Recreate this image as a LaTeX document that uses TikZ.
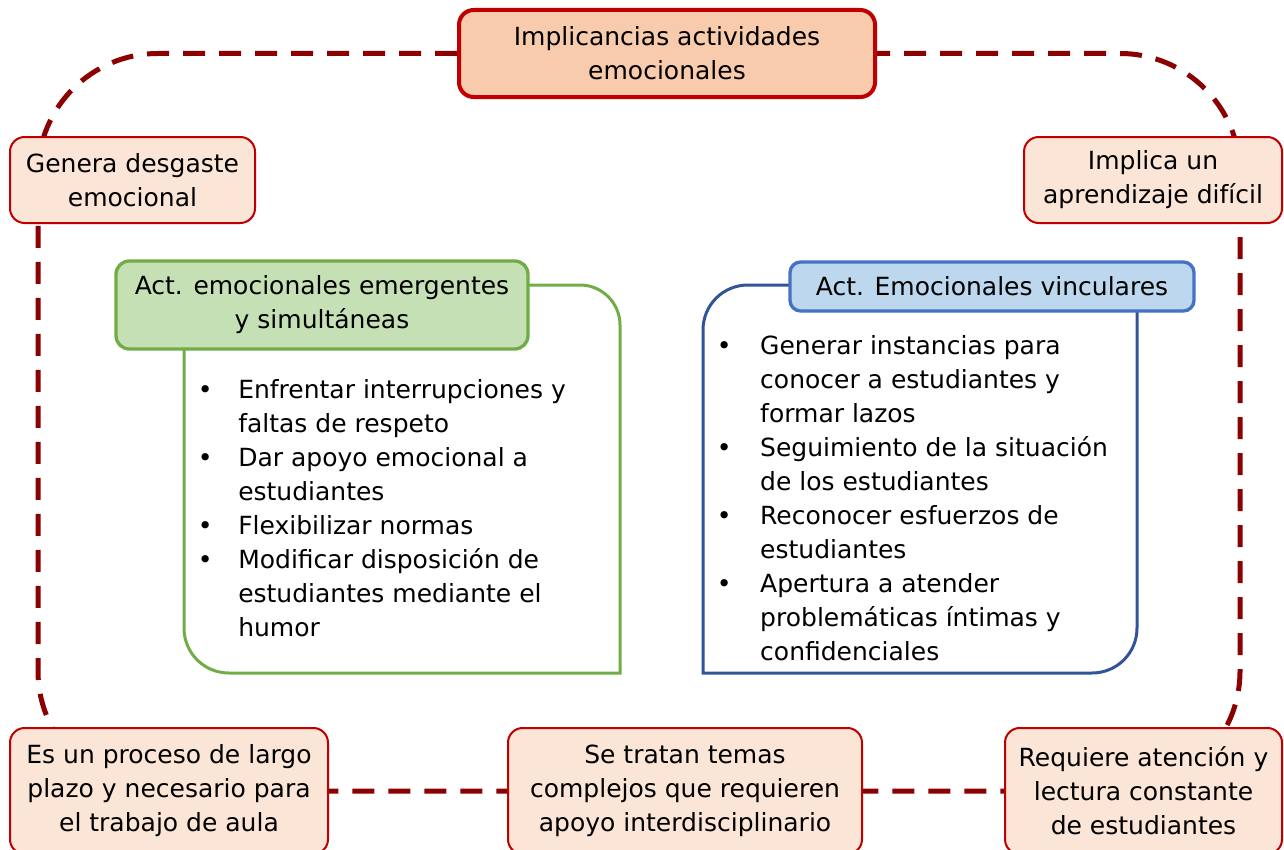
\documentclass[tikz,border=0pt]{standalone}
\usepackage{fontspec}
\setmainfont{DejaVu Sans}
\usetikzlibrary{backgrounds}
\definecolor{loopred}{HTML}{8B0000}
\definecolor{boxred}{HTML}{C00000}
\definecolor{topfill}{HTML}{F8CBAD}
\definecolor{smallfill}{HTML}{FBE5D6}
\definecolor{greenline}{HTML}{70AD47}
\definecolor{greenfill}{HTML}{C5E0B4}
\definecolor{blueline}{HTML}{4472C4}
\definecolor{bluefill}{HTML}{BDD7EE}
\definecolor{bluebody}{HTML}{2F5597}
\newcommand{\gbul}{\makebox[30.3pt][l]{•}}
\newcommand{\gind}{\hspace*{30.3pt}}
\newcommand{\bbul}{\makebox[32.5pt][l]{•}}
\newcommand{\bind}{\hspace*{32.5pt}}
\begin{document}
\begin{tikzpicture}[x=0.75pt,y=-0.75pt,
  every node/.style={font=\fontsize{18.75pt}{25.5pt}\selectfont, align=center, inner sep=0pt},
  topbox/.style={draw=boxred, fill=topfill, line width=3pt, rounded corners=11pt},
  smallbox/.style={draw=boxred, fill=smallfill, line width=1.5pt, rounded corners=11pt},
  greenhdr/.style={draw=greenline, fill=greenfill, line width=2.5pt, rounded corners=10pt},
  bluehdr/.style={draw=blueline, fill=bluefill, line width=2.5pt, rounded corners=8pt},
  listtext/.style={align=left, anchor=north west},
  loopline/.style={draw=loopred, line width=3.75pt, dash pattern=on 16.5pt off 10.5pt},
  greenbody/.style={draw=greenline, line width=2.25pt},
  bluebody/.style={draw=bluebody, line width=2.25pt}]
\useasboundingbox (0,0) rectangle (1284,849);

% main nodes
\node[topbox, minimum width=312pt, minimum height=65.25pt] (top) at (667,53.5) {Implicancias actividades\\emocionales};
\node[smallbox, minimum width=183.75pt, minimum height=64.5pt] (genera) at (132.5,180) {Genera desgaste\\emocional};
\node[smallbox, minimum width=193.5pt, minimum height=64.5pt] (implica) at (1153,180) {Implica un\\aprendizaje difícil};
\node[smallbox, minimum width=238.5pt, minimum height=94.5pt] (bl) at (169,791) {Es un proceso de largo\\plazo y necesario para\\el trabajo de aula};
\node[smallbox, minimum width=265.5pt, minimum height=94.5pt] (bm) at (685,791) {Se tratan temas\\complejos que requieren\\apoyo interdisciplinario};
\node[smallbox, minimum width=207.75pt, minimum height=94.5pt] (br) at (1143.5,791) {Requiere atención y\\lectura constante\\de estudiantes};

% loop coordinates
\coordinate (ltc) at (38,53.5);
\coordinate (lbc) at (38,791);
\coordinate (rbc) at (1240,791);
\coordinate (rtc) at (1240,53.5);

\begin{scope}[on background layer]
\draw[loopline, rounded corners=90pt] (top.west) -- (ltc) -- (lbc) -- (rbc) -- (rtc) -- (top.east);
\end{scope}

% green group
\draw[greenbody] (184,349) -- (184,628) .. controls (184,653) and (204,673) .. (229,673) -- (620,673) -- (620,325) .. controls (620,303) and (602,285) .. (580,285) -- (528,285);
\node[greenhdr, minimum width=309pt, minimum height=66pt] (ghdr) at (322,305) {Act. emocionales emergentes\\y simultáneas};
\node[listtext] (glist) at (197.6,378) {\gbul\rule{0pt}{15pt}Enfrentar interrupciones y\\
\gind faltas de respeto\\
\gbul Dar apoyo emocional a\\
\gind estudiantes\\
\gbul Flexibilizar normas\\
\gbul Modificar disposición de\\
\gind estudiantes mediante el\\
\gind humor};

% blue group
\draw[bluebody] (790,285) -- (748,285) .. controls (723,285) and (703,305) .. (703,330) -- (703,673) -- (1092,673) .. controls (1117,673) and (1137,653) .. (1137,628) -- (1137,311);
\node[bluehdr, minimum width=303pt, minimum height=36.75pt] (bhdr) at (992,286.5) {Act. Emocionales vinculares};
\node[listtext] (blist) at (716.6,334) {\bbul\rule{0pt}{15pt}Generar instancias para\\
\bind conocer a estudiantes y\\
\bind formar lazos\\
\bbul Seguimiento de la situación\\
\bind de los estudiantes\\
\bbul Reconocer esfuerzos de\\
\bind estudiantes\\
\bbul Apertura a atender\\
\bind problemáticas íntimas y\\
\bind confidenciales};
\end{tikzpicture}
\end{document}
